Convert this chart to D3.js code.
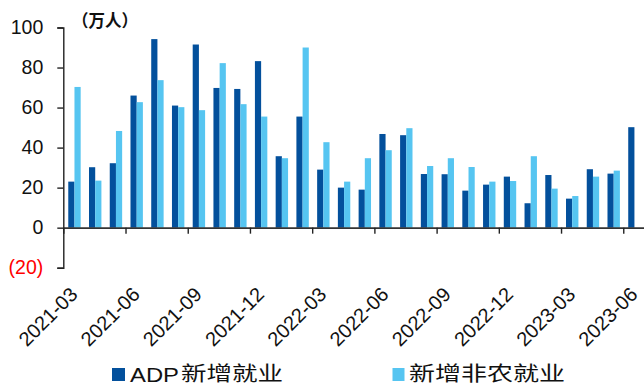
<!DOCTYPE html>
<html>
<head>
<meta charset="utf-8">
<script src="https://cdn.jsdelivr.net/npm/d3@7/dist/d3.min.js"></script>
<style>
  html, body { margin: 0; padding: 0; background: #fff; }
  svg { display: block; }
  .num { font-family: "Liberation Sans", Arial, sans-serif; }
  .cjk { font-family: "Noto Sans CJK SC", "Noto Sans", sans-serif; }
</style>
</head>
<body>
<svg id="chart" width="644" height="387"></svg>
<script>
// Monthly new jobs, unit: 10k persons
const months = [
  "2021-03","2021-04","2021-05","2021-06","2021-07","2021-08","2021-09",
  "2021-10","2021-11","2021-12","2022-01","2022-02","2022-03","2022-04",
  "2022-05","2022-06","2022-07","2022-08","2022-09","2022-10","2022-11",
  "2022-12","2023-01","2023-02","2023-03","2023-04","2023-05","2023-06"
];
const adpJobs = [
  23.0, 30.2, 32.2, 66.0, 94.2, 61.0, 91.5,
  69.8, 69.3, 83.2, 35.7, 55.5, 29.0, 20.0,
  19.0, 46.8, 46.2, 26.8, 26.7, 18.5, 21.5,
  25.5, 12.2, 26.3, 14.5, 29.2, 27.0, 50.2
];
const nonfarmJobs = [
  70.3, 23.5, 48.3, 62.7, 73.7, 60.2, 58.7,
  82.2, 61.7, 55.5, 34.7, 90.0, 42.7, 23.0,
  34.7, 38.7, 49.7, 30.8, 34.7, 30.3, 23.0,
  23.3, 35.7, 19.5, 15.8, 25.5, 28.5, null
];
const seriesNames = ["ADP新增就业", "新增非农就业"];
const seriesColors = ["#03509c", "#56c5f1"];
const yTicks = [-20, 0, 20, 40, 60, 80, 100];
const xTickIdx = [0, 3, 6, 9, 12, 15, 18, 21, 24, 27];
const unitLabel = "（万人）";

const svg = d3.select("#chart");
const plot = { left: 63.3, right: 644, top: 27.5, bottom: 267.7 };

const y = d3.scaleLinear().domain([-20, 100]).range([plot.bottom, plot.top]);
const xMonth = d3.scaleBand().domain(months).range([plot.left, plot.right]).padding(0);
const xIdx = d3.scaleLinear().domain([0, months.length]).range([plot.left, plot.right]);
const xSeries = d3.scaleBand().domain([0, 1]).range([0, 12.4]).padding(0);
const pairOffset = (xMonth.bandwidth() - 12.4) / 2 + 0.8;

// bars
const rows = months.map((m, i) => ({ m, v: [adpJobs[i], nonfarmJobs[i]] }));
const groups = svg.append("g").selectAll("g").data(rows).join("g")
  .attr("transform", d => `translate(${xMonth(d.m) + pairOffset},0)`);
groups.selectAll("rect")
  .data(d => d.v.map((v, s) => ({ v, s })).filter(e => e.v != null))
  .join("rect")
  .attr("x", e => xSeries(e.s))
  .attr("width", xSeries.bandwidth())
  .attr("y", e => y(Math.max(0, e.v)))
  .attr("height", e => Math.abs(y(e.v) - y(0)))
  .attr("fill", e => seriesColors[e.s]);

// y axis
const yAxis = svg.append("g")
  .attr("transform", `translate(${plot.left},0)`)
  .call(d3.axisLeft(y).tickValues(yTicks).tickSize(6).tickPadding(14)
    .tickFormat(v => v < 0 ? `(${Math.abs(v)})` : `${v}`));
yAxis.select(".domain").attr("stroke", "#222").attr("stroke-width", 1.4);
yAxis.selectAll(".tick line").attr("stroke", "#222").attr("stroke-width", 1.4);
yAxis.selectAll(".tick text")
  .attr("class", "num")
  .style("font-size", "19.5px")
  .attr("fill", v => v < 0 ? "#ff0000" : "#111");

// x axis along zero line
const xAxis = svg.append("g")
  .attr("transform", `translate(0,${y(0)})`)
  .call(d3.axisBottom(xIdx).tickValues(xTickIdx).tickSize(6)
    .tickSizeOuter(0).tickFormat(i => months[i]));
xAxis.select(".domain").attr("stroke", "#333").attr("stroke-width", 1.6);
xAxis.selectAll(".tick line").attr("stroke", "#222").attr("stroke-width", 1.4);
xAxis.selectAll(".tick text")
  .attr("class", "num")
  .style("font-size", "20px")
  .attr("fill", "#111")
  .attr("x", 0).attr("y", 0).attr("dy", 0)
  .attr("transform", "translate(15,68) rotate(-45)")
  .style("text-anchor", "end");

// unit label
svg.append("text")
  .attr("class", "cjk")
  .attr("x", 72).attr("y", 19.5)
  .attr("dominant-baseline", "central")
  .attr("textLength", 66).attr("lengthAdjust", "spacingAndGlyphs")
  .style("font-size", "17px").style("font-weight", "bold")
  .attr("fill", "#111")
  .text(unitLabel);

// legend
const legend = svg.append("g");
legend.append("rect").attr("x", 112).attr("y", 368).attr("width", 13).attr("height", 13)
  .attr("fill", seriesColors[0]);
legend.append("text").attr("class", "num")
  .attr("x", 130).attr("y", 381.5)
  .attr("textLength", 49).attr("lengthAdjust", "spacingAndGlyphs")
  .style("font-size", "20px").attr("fill", "#111")
  .text(seriesNames[0].slice(0, 3));
legend.append("text").attr("class", "cjk")
  .attr("x", 181).attr("y", 372.5).attr("dominant-baseline", "central")
  .attr("textLength", 102).attr("lengthAdjust", "spacingAndGlyphs")
  .style("font-size", "20px").attr("fill", "#111")
  .text(seriesNames[0].slice(3));
legend.append("rect").attr("x", 392.5).attr("y", 368).attr("width", 12).attr("height", 13)
  .attr("fill", seriesColors[1]);
legend.append("text").attr("class", "cjk")
  .attr("x", 409).attr("y", 372.5).attr("dominant-baseline", "central")
  .attr("textLength", 156).attr("lengthAdjust", "spacingAndGlyphs")
  .style("font-size", "20px").attr("fill", "#111")
  .text(seriesNames[1]);
</script>
</body>
</html>
